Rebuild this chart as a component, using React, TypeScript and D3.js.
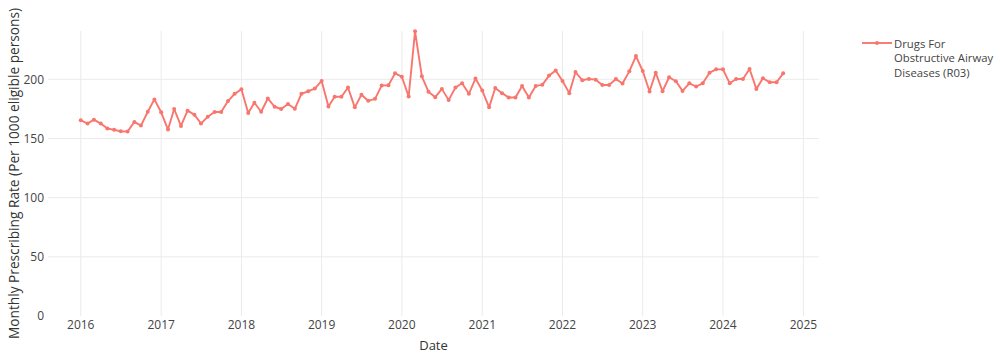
import React from "react";
import * as d3 from "d3";

const seriesName = ["Drugs For", "Obstructive Airway", "Diseases (R03)"];
const startYear = 2016;
const values: number[] = [
  // 2016
  165.4, 162.6, 165.9, 162.6, 158.4, 157.3, 156.1, 155.9, 164.0, 160.9, 172.6, 183.0,
  // 2017
  172.1, 157.5, 174.9, 160.6, 173.5, 170.1, 162.6, 168.4, 172.3, 172.3, 181.6, 187.7,
  // 2018
  191.6, 171.5, 180.2, 172.6, 183.8, 176.8, 174.9, 179.1, 175.1, 187.7, 189.9, 192.2,
  // 2019
  198.6, 177.1, 185.2, 185.2, 193.0, 176.3, 186.9, 181.8, 183.5, 194.7, 195.0, 205.0,
  // 2020
  202.2, 185.5, 240.5, 202.5, 189.5, 184.9, 191.9, 182.4, 193.0, 196.6, 187.7, 200.6,
  // 2021
  190.5, 176.3, 192.7, 188.3, 184.6, 184.6, 194.4, 184.6, 194.4, 195.3, 203.1, 207.5,
  // 2022
  198.6, 188.3, 206.1, 199.2, 200.3, 199.7, 195.2, 195.2, 200.3, 196.4, 206.7, 219.6,
  // 2023
  207.0, 189.7, 205.6, 189.9, 201.7, 198.3, 190.2, 196.6, 193.9, 196.6, 205.6, 208.4,
  // 2024
  208.4, 196.6, 200.3, 200.3, 208.7, 191.9, 200.8, 197.5, 197.5, 205.0,
];
const dates: Date[] = values.map((_, i) => new Date(startYear + Math.floor(i / 12), i % 12, 1));
const yTicks = [0, 50, 100, 150, 200];
const xTickYears = [2016, 2017, 2018, 2019, 2020, 2021, 2022, 2023, 2024, 2025];

const W = 1000;
const H = 358;
const left = 48;
const right = 819;
const top = 31;
const bottom = 316;
const color = "#F8766D";
const font = "'Open Sans', verdana, arial, sans-serif";

export default function App() {
  const x = d3
    .scaleTime()
    .domain([new Date(2015, 7, 5), new Date(2025, 2, 13)])
    .range([left, right]);
  const y = d3.scaleLinear().domain([0, 240.8]).range([bottom, top]);
  const line = d3
    .line<number>()
    .x((_, i) => x(dates[i]))
    .y((d) => y(d));

  return (
    <svg
      width={W}
      height={H}
      style={{ position: "absolute", left: 0, top: 0, background: "#fff" }}
      fontFamily={font}
    >
      {yTicks.map((t) =>
        t === 0 ? null : (
          <line key={"gy" + t} x1={left} x2={right} y1={y(t)} y2={y(t)} stroke="#ebebeb" strokeWidth={1} />
        )
      )}
      {xTickYears.map((yr) => (
        <line
          key={"gx" + yr}
          x1={x(new Date(yr, 0, 1))}
          x2={x(new Date(yr, 0, 1))}
          y1={top}
          y2={bottom}
          stroke="#ebebeb"
          strokeWidth={1}
        />
      ))}
      {yTicks.map((t) => (
        <text key={"ty" + t} x={44} y={y(t)} dy="0.36em" textAnchor="end" fontSize={12} fill="#444">
          {t}
        </text>
      ))}
      {xTickYears.map((yr) => (
        <text key={"tx" + yr} x={x(new Date(yr, 0, 1))} y={329} textAnchor="middle" fontSize={12} fill="#444">
          {yr}
        </text>
      ))}
      <path d={line(values) || ""} fill="none" stroke={color} strokeWidth={1.9} strokeLinejoin="round" />
      {values.map((v, i) => (
        <circle key={"p" + i} cx={x(dates[i])} cy={y(v)} r={2} fill={color} />
      ))}
      <text x={(left + right) / 2} y={350} textAnchor="middle" fontSize={13} fill="#333">
        Date
      </text>
      <text
        transform={`translate(19, ${(5 + 342) / 2}) rotate(-90)`}
        textAnchor="middle"
        fontSize={13.7}
        fill="#333"
      >
        Monthly Prescribing Rate (Per 1000 eligible persons)
      </text>
      <g>
        <line x1={862} x2={892} y1={43} y2={43} stroke={color} strokeWidth={1.9} />
        <circle cx={877} cy={43} r={2} fill={color} />
        {seriesName.map((s, i) => (
          <text key={"lg" + i} x={894} y={47.5 + i * 14.6} fontSize={11.3} fill="#444">
            {s}
          </text>
        ))}
      </g>
    </svg>
  );
}
